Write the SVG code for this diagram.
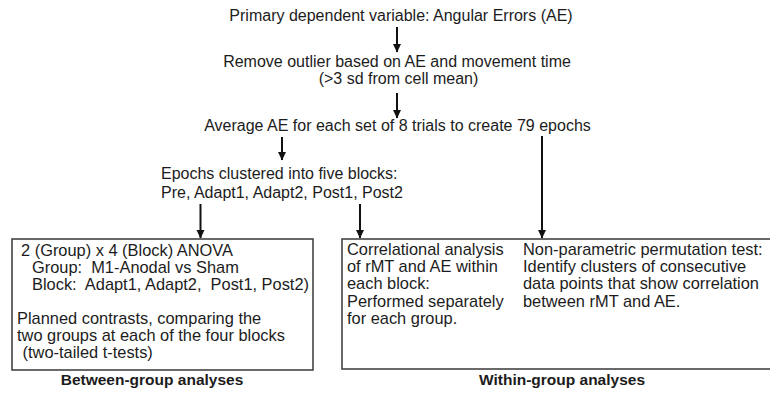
<svg xmlns="http://www.w3.org/2000/svg" width="770" height="393" viewBox="0 0 770 393">
<style>
text{font-family:"Liberation Sans",Arial,sans-serif;font-size:16px;fill:#1c1c1c}
.t{font-size:16.4px}
.c{text-anchor:middle}
.b{font-weight:bold;font-size:15.5px;text-anchor:middle}
.box{fill:none;stroke:#444;stroke-width:1.6}
.conn line{stroke:#111;stroke-width:2;marker-end:url(#ah)}
</style>
<defs>
<marker id="ah" markerUnits="userSpaceOnUse" markerWidth="9" markerHeight="9" refX="8" refY="4.5" orient="auto" viewBox="0 0 9 9">
<path d="M0,0.5 L8.5,4.5 L0,8.5 z" fill="#111"/>
</marker>
</defs>
<rect width="770" height="393" fill="#fff"/>
<g id="n-primary"><text class="c" x="401" y="21">Primary dependent variable: Angular Errors (AE)</text></g>
<g id="n-outlier"><text class="c" x="397" y="67">Remove outlier based on AE and movement time</text><text class="c" x="398.5" y="84">(&gt;3 sd from cell mean)</text></g>
<g id="n-average"><text class="c" x="397.5" y="131">Average AE for each set of 8 trials to create 79 epochs</text></g>
<g id="n-epochs"><text x="161" y="179">Epochs clustered into five blocks:</text><text x="161" y="198">Pre, Adapt1, Adapt2, Post1, Post2</text></g>
<g id="n-between">
<rect class="box" x="12" y="239" width="301" height="131"/>
<text class="t" x="21" y="256">2 (Group) x 4 (Block) ANOVA</text>
<text class="t" x="32" y="273" xml:space="preserve">Group:  M1-Anodal vs Sham</text>
<text class="t" x="32" y="290" xml:space="preserve">Block:  Adapt1, Adapt2,  Post1, Post2)</text>
<text class="t" x="17" y="324">Planned contrasts, comparing the</text>
<text class="t" x="17" y="341">two groups at each of the four blocks</text>
<text class="t" x="18" y="358" xml:space="preserve"> (two-tailed t-tests)</text>
<text class="b" x="152" y="385">Between-group analyses</text>
</g>
<g id="n-within">
<rect class="box" x="342" y="239" width="440" height="130"/>
<text class="t" x="347" y="255">Correlational analysis</text>
<text class="t" x="347" y="272">of rMT and AE within</text>
<text class="t" x="347" y="289">each block:</text>
<text class="t" x="347" y="307">Performed separately</text>
<text class="t" x="347" y="324">for each group.</text>
<text class="t" x="523" y="255">Non-parametric permutation test:</text>
<text class="t" x="523" y="272">Identify clusters of consecutive</text>
<text class="t" x="523" y="289">data points that show correlation</text>
<text class="t" x="523" y="307">between rMT and AE.</text>
<text class="b" x="562" y="385">Within-group analyses</text>
</g>
<g id="connectors" class="conn">
<line x1="397" y1="27" x2="397" y2="52"/>
<line x1="397" y1="93" x2="397" y2="118"/>
<line x1="282" y1="137" x2="282" y2="160"/>
<line x1="542" y1="136" x2="542" y2="238"/>
<line x1="200.5" y1="204" x2="200.5" y2="238"/>
<line x1="360" y1="204" x2="360" y2="238"/>
</g>
</svg>
